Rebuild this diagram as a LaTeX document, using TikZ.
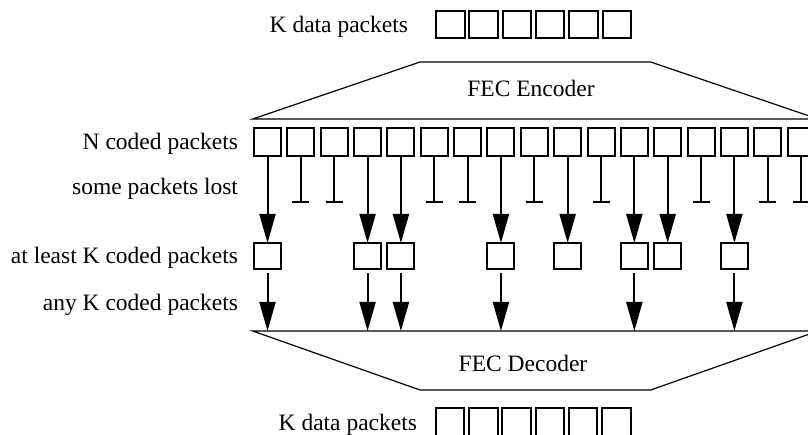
\documentclass[tikz,border=0pt]{standalone}
\usepackage{fontspec}
\setmainfont{Liberation Serif}
\usetikzlibrary{arrows.meta}
\begin{document}
\begin{tikzpicture}[x=1pt,y=-1pt,
  every node/.style={font=\fontsize{23.5}{28}\selectfont, inner sep=0pt, outer sep=0pt},
  pkt/.style={draw, line width=2pt, minimum width=27pt, minimum height=28pt},
  rcv/.style={pkt, minimum height=26pt},
  dat/.style={draw, line width=2pt, minimum width=28.5pt, minimum height=27.3pt},
  lefttext/.style={anchor=mid east},
  flow/.style={line width=2pt, -{Triangle[length=29pt,width=16pt]}},
  loss/.style={line width=2pt, -{Bar[width=17pt]}},
  coder/.style={line width=1.2pt, line join=miter}
]
\useasboundingbox (0,0) rectangle (808,435);
\clip (0,0) rectangle (808,435);

% row labels
\node[lefttext] (kin)  at (408,30.5) {K data packets};
\node[lefttext] (nlab) at (238,147.5) {N coded packets};
\node[lefttext] (lost) at (238,192.5) {some packets lost};
\node[lefttext] (atl)  at (238,261) {at least K coded packets};
\node[lefttext] (anyk) at (238,308) {any K coded packets};
\node[lefttext] (kout) at (417,428) {K data packets};

% source packets
\foreach \i in {0,...,5}
  \node[dat] (k\i) at ({450.25+33.3*\i},24.7) {};

% encoder
\draw[coder] (252.7,119) -- (420,62) -- (650.7,62) -- (818,119) -- cycle;
\node (enc) at (531,88) {FEC Encoder};

% coded packets
\foreach \i in {0,...,16}
  \node[pkt] (c\i) at ({267.5+33.35*\i},142.3) {};

% lost packets
\foreach \i in {1,2,5,6,8,10,13,15,16} {
  \coordinate (l\i) at (c\i.south |- 0,203.3);
  \draw[loss] (c\i) -- (l\i);
}

% received packets
\foreach \i in {0,3,4,7,9,11,12,14} {
  \node[rcv] (r\i) at ({267.5+33.35*\i},256) {};
  \draw[flow] (c\i) -- (r\i);
}

% decoder
\coordinate (dectop) at (252.7,331);
\draw[coder] (dectop) -- (818,331) -- (650.7,390) -- (420,390) -- cycle;
\node (dec) at (523,363) {FEC Decoder};

% packets handed to the decoder
\foreach \i in {0,3,4,7,11,14} {
  \coordinate (d\i) at (r\i.south |- dectop);
  \draw[flow, shorten <=4pt] (r\i) -- (d\i);
}

% recovered packets
\foreach \i in {0,...,5}
  \node[dat] (o\i) at ({450+33.3*\i},422) {};
\end{tikzpicture}
\end{document}
